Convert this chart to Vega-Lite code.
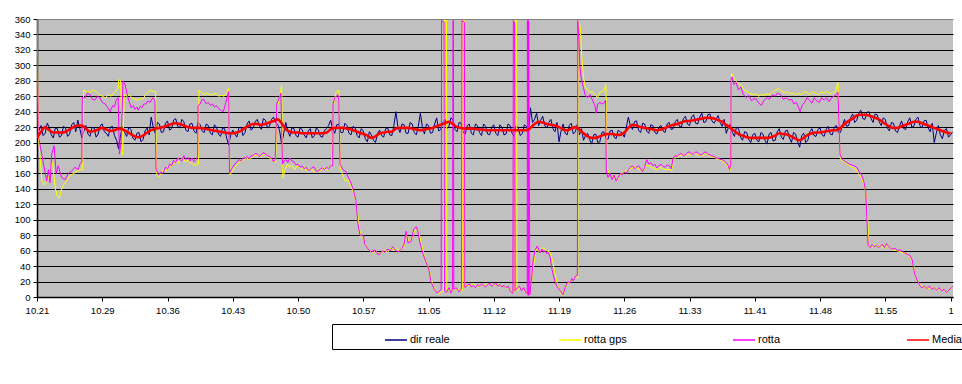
{
"$schema":"https://vega.github.io/schema/vega-lite/v6.json",
"width":916,"height":278,
"autosize":{"type":"none"},
"padding":{"left":37,"top":19,"right":9,"bottom":87},
"background":"white",
"config":{"view":{"fill":"#C0C0C0","stroke":null},"font":"Liberation Sans"},
"datasets":{
"dir":[{"t":0,"v":210},{"t":1,"v":222},{"t":2,"v":212},{"t":3,"v":220},{"t":4,"v":206},{"t":5,"v":218},{"t":6,"v":209},{"t":7,"v":219},{"t":8,"v":211},{"t":9,"v":226},{"t":10,"v":229},{"t":11,"v":206},{"t":12,"v":222},{"t":13,"v":208},{"t":14,"v":219},{"t":15,"v":211},{"t":16,"v":224},{"t":17,"v":212},{"t":18,"v":220},{"t":19,"v":209},{"t":20,"v":192},{"t":21,"v":221},{"t":22,"v":208},{"t":23,"v":217},{"t":24,"v":203},{"t":25,"v":213},{"t":26,"v":204},{"t":27,"v":219},{"t":28,"v":233},{"t":29,"v":212},{"t":30,"v":224},{"t":31,"v":214},{"t":32,"v":228},{"t":33,"v":218},{"t":34,"v":231},{"t":35,"v":219},{"t":36,"v":227},{"t":37,"v":214},{"t":38,"v":225},{"t":39,"v":212},{"t":40,"v":223},{"t":41,"v":213},{"t":42,"v":222},{"t":43,"v":210},{"t":44,"v":220},{"t":45,"v":208},{"t":46,"v":218},{"t":47,"v":197},{"t":48,"v":216},{"t":49,"v":207},{"t":50,"v":220},{"t":51,"v":213},{"t":52,"v":228},{"t":53,"v":219},{"t":54,"v":230},{"t":55,"v":217},{"t":56,"v":229},{"t":57,"v":221},{"t":58,"v":233},{"t":59,"v":224},{"t":60,"v":198},{"t":61,"v":226},{"t":62,"v":208},{"t":63,"v":218},{"t":64,"v":207},{"t":65,"v":217},{"t":66,"v":206},{"t":67,"v":218},{"t":68,"v":209},{"t":69,"v":216},{"t":70,"v":207},{"t":71,"v":218},{"t":72,"v":229},{"t":73,"v":212},{"t":74,"v":224},{"t":75,"v":213},{"t":76,"v":222},{"t":77,"v":210},{"t":78,"v":219},{"t":79,"v":206},{"t":80,"v":215},{"t":81,"v":201},{"t":82,"v":210},{"t":83,"v":200},{"t":84,"v":216},{"t":85,"v":207},{"t":86,"v":219},{"t":87,"v":209},{"t":88,"v":240},{"t":89,"v":213},{"t":90,"v":223},{"t":91,"v":212},{"t":92,"v":224},{"t":93,"v":210},{"t":94,"v":238},{"t":95,"v":211},{"t":96,"v":222},{"t":97,"v":213},{"t":98,"v":232},{"t":99,"v":217},{"t":100,"v":230},{"t":101,"v":221},{"t":102,"v":229},{"t":103,"v":214},{"t":104,"v":225},{"t":105,"v":211},{"t":106,"v":224},{"t":107,"v":210},{"t":108,"v":222},{"t":109,"v":209},{"t":110,"v":221},{"t":111,"v":210},{"t":112,"v":223},{"t":113,"v":209},{"t":114,"v":220},{"t":115,"v":211},{"t":116,"v":222},{"t":117,"v":208},{"t":118,"v":219},{"t":119,"v":212},{"t":120,"v":221},{"t":121,"v":245},{"t":122,"v":230},{"t":123,"v":222},{"t":124,"v":234},{"t":125,"v":219},{"t":126,"v":230},{"t":127,"v":214},{"t":128,"v":201},{"t":129,"v":224},{"t":130,"v":210},{"t":131,"v":225},{"t":132,"v":214},{"t":133,"v":210},{"t":134,"v":203},{"t":135,"v":212},{"t":136,"v":198},{"t":137,"v":211},{"t":138,"v":201},{"t":139,"v":214},{"t":140,"v":204},{"t":141,"v":216},{"t":142,"v":205},{"t":143,"v":214},{"t":144,"v":207},{"t":145,"v":233},{"t":146,"v":217},{"t":147,"v":228},{"t":148,"v":213},{"t":149,"v":224},{"t":150,"v":212},{"t":151,"v":222},{"t":152,"v":211},{"t":153,"v":222},{"t":154,"v":213},{"t":155,"v":226},{"t":156,"v":218},{"t":157,"v":230},{"t":158,"v":220},{"t":159,"v":234},{"t":160,"v":222},{"t":161,"v":236},{"t":162,"v":224},{"t":163,"v":238},{"t":164,"v":227},{"t":165,"v":237},{"t":166,"v":225},{"t":167,"v":235},{"t":168,"v":221},{"t":169,"v":212},{"t":170,"v":224},{"t":171,"v":208},{"t":172,"v":218},{"t":173,"v":203},{"t":174,"v":213},{"t":175,"v":200},{"t":176,"v":212},{"t":177,"v":201},{"t":178,"v":211},{"t":179,"v":198},{"t":180,"v":213},{"t":181,"v":203},{"t":182,"v":218},{"t":183,"v":204},{"t":184,"v":216},{"t":185,"v":200},{"t":186,"v":211},{"t":187,"v":194},{"t":188,"v":212},{"t":189,"v":203},{"t":190,"v":218},{"t":191,"v":208},{"t":192,"v":219},{"t":193,"v":208},{"t":194,"v":221},{"t":195,"v":210},{"t":196,"v":222},{"t":197,"v":213},{"t":198,"v":230},{"t":199,"v":222},{"t":200,"v":237},{"t":201,"v":229},{"t":202,"v":242},{"t":203,"v":230},{"t":204,"v":240},{"t":205,"v":226},{"t":206,"v":236},{"t":207,"v":222},{"t":208,"v":230},{"t":209,"v":215},{"t":210,"v":225},{"t":211,"v":213},{"t":212,"v":228},{"t":213,"v":217},{"t":214,"v":232},{"t":215,"v":221},{"t":216,"v":233},{"t":217,"v":219},{"t":218,"v":229},{"t":219,"v":214},{"t":220,"v":200},{"t":221,"v":222},{"t":222,"v":205},{"t":223,"v":218},{"t":224,"v":210},
{"t":0.5,"v":216},{"t":1.5,"v":209},{"t":2.5,"v":225},{"t":3.5,"v":210},{"t":4.5,"v":219},{"t":5.5,"v":207},{"t":6.5,"v":221},{"t":7.5,"v":208},{"t":8.5,"v":223},{"t":9.5,"v":214},{"t":10.5,"v":218},{"t":11.5,"v":215},{"t":12.5,"v":211},{"t":13.5,"v":220},{"t":14.5,"v":207},{"t":15.5,"v":222},{"t":16.5,"v":214},{"t":17.5,"v":208},{"t":18.5,"v":221},{"t":19.5,"v":203},{"t":20.5,"v":210},{"t":21.5,"v":213},{"t":22.5,"v":220},{"t":23.5,"v":206},{"t":24.5,"v":212},{"t":25.5,"v":201},{"t":26.5,"v":215},{"t":27.5,"v":210},{"t":28.5,"v":220},{"t":29.5,"v":226},{"t":30.5,"v":213},{"t":31.5,"v":225},{"t":32.5,"v":216},{"t":33.5,"v":229},{"t":34.5,"v":221},{"t":35.5,"v":230},{"t":36.5,"v":216},{"t":37.5,"v":224},{"t":38.5,"v":215},{"t":39.5,"v":226},{"t":40.5,"v":215},{"t":41.5,"v":224},{"t":42.5,"v":212},{"t":43.5,"v":223},{"t":44.5,"v":211},{"t":45.5,"v":219},{"t":46.5,"v":206},{"t":47.5,"v":210},{"t":48.5,"v":211},{"t":49.5,"v":219},{"t":50.5,"v":209},{"t":51.5,"v":224},{"t":52.5,"v":216},{"t":53.5,"v":227},{"t":54.5,"v":222},{"t":55.5,"v":231},{"t":56.5,"v":219},{"t":57.5,"v":230},{"t":58.5,"v":226},{"t":59.5,"v":215},{"t":60.5,"v":212},{"t":61.5,"v":215},{"t":62.5,"v":219},{"t":63.5,"v":209},{"t":64.5,"v":219},{"t":65.5,"v":210},{"t":66.5,"v":215},{"t":67.5,"v":206},{"t":68.5,"v":219},{"t":69.5,"v":208},{"t":70.5,"v":216},{"t":71.5,"v":222},{"t":72.5,"v":218},{"t":73.5,"v":223},{"t":74.5,"v":213},{"t":75.5,"v":225},{"t":76.5,"v":212},{"t":77.5,"v":221},{"t":78.5,"v":209},{"t":79.5,"v":218},{"t":80.5,"v":205},{"t":81.5,"v":214},{"t":82.5,"v":203},{"t":83.5,"v":212},{"t":84.5,"v":209},{"t":85.5,"v":218},{"t":86.5,"v":210},{"t":87.5,"v":222},{"t":88.5,"v":220},{"t":89.5,"v":224},{"t":90.5,"v":212},{"t":91.5,"v":226},{"t":92.5,"v":213},{"t":93.5,"v":221},{"t":94.5,"v":220},{"t":95.5,"v":224},{"t":96.5,"v":212},{"t":97.5,"v":224},{"t":98.5,"v":215},{"t":99.5,"v":226},{"t":100.5,"v":218},{"t":101.5,"v":232},{"t":102.5,"v":217},{"t":103.5,"v":226},{"t":104.5,"v":213},{"t":105.5,"v":222},{"t":106.5,"v":212},{"t":107.5,"v":224},{"t":108.5,"v":213},{"t":109.5,"v":224},{"t":110.5,"v":211},{"t":111.5,"v":220},{"t":112.5,"v":212},{"t":113.5,"v":223},{"t":114.5,"v":210},{"t":115.5,"v":224},{"t":116.5,"v":212},{"t":117.5,"v":222},{"t":118.5,"v":209},{"t":119.5,"v":223},{"t":120.5,"v":213},{"t":121.5,"v":226},{"t":122.5,"v":238},{"t":123.5,"v":229},{"t":124.5,"v":222},{"t":125.5,"v":226},{"t":126.5,"v":218},{"t":127.5,"v":226},{"t":128.5,"v":215},{"t":129.5,"v":212},{"t":130.5,"v":222},{"t":131.5,"v":211},{"t":132.5,"v":224},{"t":133.5,"v":218},{"t":134.5,"v":209},{"t":135.5,"v":204},{"t":136.5,"v":210},{"t":137.5,"v":200},{"t":138.5,"v":213},{"t":139.5,"v":206},{"t":140.5,"v":215},{"t":141.5,"v":207},{"t":142.5,"v":216},{"t":143.5,"v":212},{"t":144.5,"v":220},{"t":145.5,"v":222},{"t":146.5,"v":227},{"t":147.5,"v":216},{"t":148.5,"v":225},{"t":149.5,"v":215},{"t":150.5,"v":223},{"t":151.5,"v":213},{"t":152.5,"v":220},{"t":153.5,"v":215},{"t":154.5,"v":224},{"t":155.5,"v":217},{"t":156.5,"v":227},{"t":157.5,"v":221},{"t":158.5,"v":231},{"t":159.5,"v":224},{"t":160.5,"v":233},{"t":161.5,"v":225},{"t":162.5,"v":233},{"t":163.5,"v":226},{"t":164.5,"v":236},{"t":165.5,"v":228},{"t":166.5,"v":230},{"t":167.5,"v":226},{"t":168.5,"v":230},{"t":169.5,"v":219},{"t":170.5,"v":213},{"t":171.5,"v":220},{"t":172.5,"v":207},{"t":173.5,"v":214},{"t":174.5,"v":204},{"t":175.5,"v":210},{"t":176.5,"v":203},{"t":177.5,"v":213},{"t":178.5,"v":203},{"t":179.5,"v":211},{"t":180.5,"v":202},{"t":181.5,"v":214},{"t":182.5,"v":207},{"t":183.5,"v":215},{"t":184.5,"v":206},{"t":185.5,"v":213},{"t":186.5,"v":201},{"t":187.5,"v":209},{"t":188.5,"v":200},{"t":189.5,"v":214},{"t":190.5,"v":209},{"t":191.5,"v":217},{"t":192.5,"v":210},{"t":193.5,"v":217},{"t":194.5,"v":211},{"t":195.5,"v":220},{"t":196.5,"v":213},{"t":197.5,"v":222},{"t":198.5,"v":221},{"t":199.5,"v":232},{"t":200.5,"v":226},{"t":201.5,"v":238},{"t":202.5,"v":231},{"t":203.5,"v":239},{"t":204.5,"v":231},{"t":205.5,"v":237},{"t":206.5,"v":227},{"t":207.5,"v":232},{"t":208.5,"v":219},{"t":209.5,"v":226},{"t":210.5,"v":215},{"t":211.5,"v":222},{"t":212.5,"v":218},{"t":213.5,"v":227},{"t":214.5,"v":220},{"t":215.5,"v":230},{"t":216.5,"v":222},{"t":217.5,"v":228},{"t":218.5,"v":219},{"t":219.5,"v":225},{"t":220.5,"v":212},{"t":221.5,"v":210},{"t":222.5,"v":216},{"t":223.5,"v":207},{"t":224.5,"v":214}],
"gps":[{"t":0,"v":360},{"t":0.4,"v":205},{"t":1.2,"v":150},{"t":1.8,"v":145},{"t":2.5,"v":150},{"t":3.2,"v":160},{"t":3.8,"v":175},{"t":4.5,"v":140},{"t":5,"v":130},{"t":5.5,"v":128},{"t":6,"v":140},{"t":6.5,"v":145},{"t":7.2,"v":150},{"t":8,"v":157},{"t":9,"v":160},{"t":10,"v":163},{"t":10.7,"v":165},{"t":11.2,"v":165},{"t":11.4,"v":268},{"t":12,"v":266},{"t":13,"v":265},{"t":13.8,"v":268},{"t":14.5,"v":266},{"t":15.2,"v":262},{"t":16,"v":260},{"t":16.8,"v":258},{"t":17.5,"v":262},{"t":18.2,"v":260},{"t":19,"v":265},{"t":19.6,"v":268},{"t":19.9,"v":270},{"t":20,"v":281},{"t":20.5,"v":281},{"t":21,"v":184},{"t":21.4,"v":262},{"t":22,"v":260},{"t":22.6,"v":262},{"t":23.3,"v":258},{"t":24,"v":256},{"t":24.7,"v":255},{"t":25.4,"v":257},{"t":26,"v":256},{"t":26.6,"v":262},{"t":27.2,"v":265},{"t":27.8,"v":268},{"t":28.5,"v":266},{"t":29.1,"v":266},{"t":29.3,"v":160},{"t":29.8,"v":155},{"t":30.4,"v":160},{"t":31,"v":165},{"t":31.6,"v":163},{"t":32.2,"v":170},{"t":32.8,"v":168},{"t":33.4,"v":172},{"t":34,"v":176},{"t":34.6,"v":173},{"t":35.2,"v":178},{"t":35.8,"v":180},{"t":36.4,"v":175},{"t":37,"v":177},{"t":37.6,"v":174},{"t":38.2,"v":172},{"t":38.8,"v":170},{"t":39.3,"v":172},{"t":39.6,"v":172},{"t":39.7,"v":268},{"t":40.3,"v":265},{"t":41,"v":262},{"t":41.7,"v":264},{"t":42.4,"v":262},{"t":43.1,"v":262},{"t":43.8,"v":264},{"t":44.5,"v":260},{"t":45.2,"v":261},{"t":45.9,"v":260},{"t":46.5,"v":266},{"t":47,"v":270},{"t":47.3,"v":158},{"t":47.8,"v":162},{"t":48.5,"v":168},{"t":49.2,"v":172},{"t":50,"v":176},{"t":50.7,"v":178},{"t":51.4,"v":180},{"t":52.1,"v":178},{"t":52.8,"v":181},{"t":53.5,"v":184},{"t":54.2,"v":183},{"t":55,"v":182},{"t":55.7,"v":185},{"t":56.4,"v":183},{"t":57.1,"v":180},{"t":57.8,"v":176},{"t":58.5,"v":175},{"t":58.9,"v":245},{"t":59.6,"v":262},{"t":60,"v":274},{"t":60.3,"v":154},{"t":60.8,"v":165},{"t":61.5,"v":172},{"t":62,"v":168},{"t":62.6,"v":170},{"t":63.2,"v":165},{"t":63.8,"v":170},{"t":64.4,"v":168},{"t":65,"v":165},{"t":65.6,"v":168},{"t":66.2,"v":163},{"t":66.8,"v":166},{"t":67.4,"v":165},{"t":68,"v":162},{"t":68.6,"v":165},{"t":69.2,"v":162},{"t":69.8,"v":166},{"t":70.4,"v":167},{"t":71,"v":164},{"t":71.6,"v":168},{"t":72.3,"v":170},{"t":72.7,"v":248},{"t":73.3,"v":265},{"t":74,"v":268},{"t":74.4,"v":165},{"t":75,"v":158},{"t":75.6,"v":150},{"t":76.2,"v":152},{"t":76.8,"v":145},{"t":77.4,"v":138},{"t":78,"v":128},{"t":78.6,"v":110},{"t":79,"v":90},{"t":79.5,"v":78},{"t":80.2,"v":75},{"t":80.7,"v":66},{"t":81.5,"v":60},{"t":82.3,"v":57},{"t":83,"v":60},{"t":83.8,"v":56},{"t":84.5,"v":58},{"t":85.2,"v":60},{"t":86,"v":58},{"t":86.7,"v":63},{"t":87.4,"v":60},{"t":88,"v":64},{"t":88.7,"v":60},{"t":89.3,"v":62},{"t":90,"v":65},{"t":90.6,"v":80},{"t":91.2,"v":72},{"t":91.9,"v":75},{"t":92.6,"v":86},{"t":93.2,"v":88},{"t":93.7,"v":82},{"t":94.3,"v":68},{"t":95,"v":52},{"t":95.7,"v":42},{"t":96.4,"v":30},{"t":97,"v":16},{"t":97.7,"v":8},{"t":98.4,"v":4},{"t":99,"v":6},{"t":99.7,"v":8},{"t":99.8,"v":358},{"t":100.4,"v":358},{"t":100.5,"v":8},{"t":101,"v":10},{"t":101.6,"v":6},{"t":102.3,"v":12},{"t":103,"v":8},{"t":103.7,"v":10},{"t":104.3,"v":8},{"t":104.4,"v":358},{"t":104.8,"v":358},{"t":104.9,"v":12},{"t":105.5,"v":16},{"t":106,"v":14},{"t":107,"v":17},{"t":108,"v":13},{"t":109,"v":16},{"t":110,"v":15},{"t":111,"v":17},{"t":112,"v":15},{"t":113,"v":16},{"t":114,"v":14},{"t":115,"v":13},{"t":116,"v":9},{"t":116.8,"v":6},{"t":117.1,"v":8},{"t":117.2,"v":358},{"t":117.6,"v":358},{"t":117.7,"v":8},{"t":118.4,"v":12},{"t":119,"v":10},{"t":119.6,"v":7},{"t":120.3,"v":5},{"t":121,"v":6},{"t":121.5,"v":30},{"t":122.3,"v":62},{"t":123.3,"v":58},{"t":124,"v":64},{"t":125,"v":60},{"t":125.8,"v":58},{"t":126.5,"v":45},{"t":127,"v":30},{"t":127.7,"v":15},{"t":128.5,"v":5},{"t":129,"v":2},{"t":129.8,"v":14},{"t":130.5,"v":20},{"t":131.3,"v":22},{"t":132,"v":26},{"t":132.6,"v":25},{"t":132.7,"v":358},{"t":133.2,"v":350},{"t":133.6,"v":310},{"t":134,"v":285},{"t":134.4,"v":272},{"t":135,"v":268},{"t":135.6,"v":265},{"t":136.2,"v":266},{"t":136.8,"v":262},{"t":137.5,"v":258},{"t":138,"v":265},{"t":138.6,"v":266},{"t":139.1,"v":268},{"t":139.5,"v":275},{"t":139.8,"v":167},{"t":140.3,"v":160},{"t":141,"v":157},{"t":141.6,"v":153},{"t":142.2,"v":150},{"t":142.8,"v":158},{"t":143.5,"v":160},{"t":144.2,"v":163},{"t":145,"v":165},{"t":145.7,"v":167},{"t":146.4,"v":168},{"t":147.2,"v":167},{"t":148,"v":164},{"t":148.6,"v":162},{"t":149.3,"v":170},{"t":150,"v":170},{"t":150.7,"v":168},{"t":151.4,"v":166},{"t":152.1,"v":165},{"t":152.8,"v":168},{"t":153.5,"v":166},{"t":154.2,"v":165},{"t":155,"v":165},{"t":155.6,"v":164},{"t":156.2,"v":178},{"t":156.9,"v":182},{"t":157.6,"v":183},{"t":158.3,"v":184},{"t":159,"v":183},{"t":159.7,"v":185},{"t":160.4,"v":184},{"t":161.1,"v":186},{"t":161.8,"v":185},{"t":162.5,"v":183},{"t":163.2,"v":183},{"t":163.9,"v":186},{"t":164.6,"v":184},{"t":165.3,"v":182},{"t":166,"v":181},{"t":166.7,"v":179},{"t":167.4,"v":178},{"t":168.1,"v":176},{"t":168.8,"v":173},{"t":169.5,"v":168},{"t":170,"v":164},{"t":170.3,"v":290},{"t":170.8,"v":285},{"t":171.3,"v":280},{"t":172,"v":276},{"t":172.7,"v":274},{"t":173.4,"v":268},{"t":174.1,"v":266},{"t":174.8,"v":264},{"t":175.5,"v":262},{"t":176.2,"v":263},{"t":176.9,"v":260},{"t":177.6,"v":262},{"t":178.3,"v":261},{"t":179,"v":263},{"t":179.7,"v":262},{"t":180.4,"v":266},{"t":181.1,"v":268},{"t":181.8,"v":270},{"t":182.5,"v":267},{"t":183.2,"v":264},{"t":183.9,"v":266},{"t":184.6,"v":263},{"t":185.3,"v":264},{"t":186,"v":262},{"t":186.7,"v":264},{"t":187.4,"v":262},{"t":188.1,"v":266},{"t":188.8,"v":265},{"t":189.5,"v":262},{"t":190.2,"v":266},{"t":190.9,"v":264},{"t":191.6,"v":262},{"t":192.3,"v":266},{"t":193,"v":264},{"t":193.7,"v":266},{"t":194.4,"v":263},{"t":195.1,"v":265},{"t":195.8,"v":266},{"t":196.4,"v":278},{"t":196.9,"v":180},{"t":197.5,"v":176},{"t":198.2,"v":174},{"t":199,"v":171},{"t":199.8,"v":168},{"t":200.6,"v":166},{"t":201.4,"v":160},{"t":202.1,"v":155},{"t":202.8,"v":145},{"t":203.4,"v":132},{"t":203.7,"v":100},{"t":204,"v":66},{"t":204.7,"v":65},{"t":205.4,"v":68},{"t":206.2,"v":65},{"t":207,"v":66},{"t":207.8,"v":63},{"t":208.6,"v":68},{"t":209.3,"v":63},{"t":210,"v":61},{"t":210.8,"v":60},{"t":211.6,"v":59},{"t":212.4,"v":57},{"t":213.2,"v":55},{"t":214,"v":52},{"t":214.8,"v":45},{"t":215.4,"v":28},{"t":216.2,"v":18},{"t":217,"v":14},{"t":218,"v":12},{"t":219,"v":11},{"t":220,"v":12},{"t":221,"v":9},{"t":222,"v":10},{"t":223,"v":7},{"t":224,"v":10},{"t":224.6,"v":14}],
"rot":[{"t":0,"v":360},{"t":0.3,"v":210},{"t":1.5,"v":175},{"t":2.4,"v":150},{"t":2.8,"v":165},{"t":3.2,"v":148},{"t":3.6,"v":185},{"t":4.2,"v":196},{"t":4.7,"v":160},{"t":5.2,"v":170},{"t":6,"v":155},{"t":6.9,"v":152},{"t":7.7,"v":160},{"t":8.5,"v":163},{"t":9.3,"v":168},{"t":10.1,"v":165},{"t":10.5,"v":172},{"t":11,"v":175},{"t":11.1,"v":258},{"t":11.8,"v":258},{"t":12.4,"v":264},{"t":13,"v":262},{"t":13.6,"v":256},{"t":14.2,"v":255},{"t":14.8,"v":260},{"t":15.4,"v":258},{"t":16,"v":252},{"t":16.7,"v":250},{"t":17.4,"v":245},{"t":17.9,"v":240},{"t":18.6,"v":248},{"t":19,"v":246},{"t":19.4,"v":255},{"t":19.9,"v":258},{"t":20.2,"v":185},{"t":20.6,"v":200},{"t":21.1,"v":280},{"t":21.6,"v":275},{"t":22.3,"v":258},{"t":23.1,"v":245},{"t":23.6,"v":248},{"t":24,"v":243},{"t":24.5,"v":246},{"t":24.8,"v":242},{"t":25.3,"v":247},{"t":25.7,"v":245},{"t":26.2,"v":250},{"t":26.7,"v":250},{"t":27.2,"v":254},{"t":27.7,"v":252},{"t":28.4,"v":258},{"t":28.9,"v":255},{"t":29.2,"v":165},{"t":29.8,"v":158},{"t":30.3,"v":162},{"t":30.9,"v":160},{"t":31.5,"v":168},{"t":32,"v":166},{"t":32.5,"v":172},{"t":33,"v":170},{"t":33.5,"v":177},{"t":34,"v":174},{"t":34.5,"v":180},{"t":35,"v":178},{"t":35.5,"v":176},{"t":36,"v":183},{"t":36.5,"v":178},{"t":37,"v":181},{"t":37.5,"v":176},{"t":38,"v":180},{"t":38.5,"v":175},{"t":39,"v":178},{"t":39.4,"v":182},{"t":39.5,"v":248},{"t":40,"v":250},{"t":40.5,"v":256},{"t":41,"v":255},{"t":41.5,"v":250},{"t":42,"v":252},{"t":42.5,"v":248},{"t":43,"v":250},{"t":43.5,"v":246},{"t":44,"v":248},{"t":44.5,"v":244},{"t":45,"v":242},{"t":45.7,"v":240},{"t":46.3,"v":252},{"t":46.8,"v":262},{"t":47,"v":266},{"t":47.2,"v":160},{"t":47.6,"v":165},{"t":48,"v":168},{"t":48.5,"v":172},{"t":49,"v":175},{"t":49.5,"v":178},{"t":50,"v":176},{"t":50.5,"v":180},{"t":51,"v":180},{"t":51.5,"v":182},{"t":52,"v":179},{"t":52.5,"v":183},{"t":53,"v":183},{"t":53.5,"v":186},{"t":54,"v":185},{"t":54.5,"v":182},{"t":55,"v":184},{"t":55.5,"v":187},{"t":56,"v":185},{"t":56.5,"v":183},{"t":57,"v":182},{"t":57.5,"v":180},{"t":58,"v":175},{"t":58.4,"v":178},{"t":58.8,"v":250},{"t":59.4,"v":258},{"t":59.8,"v":264},{"t":60.2,"v":172},{"t":60.6,"v":176},{"t":61,"v":178},{"t":61.5,"v":174},{"t":62,"v":180},{"t":62.5,"v":176},{"t":63,"v":175},{"t":63.5,"v":171},{"t":64,"v":172},{"t":64.5,"v":168},{"t":65,"v":170},{"t":65.5,"v":166},{"t":66,"v":168},{"t":66.5,"v":164},{"t":67,"v":165},{"t":67.5,"v":168},{"t":68,"v":168},{"t":68.5,"v":163},{"t":69,"v":163},{"t":69.5,"v":166},{"t":70,"v":167},{"t":70.5,"v":165},{"t":71,"v":168},{"t":71.5,"v":166},{"t":72,"v":170},{"t":72.5,"v":170},{"t":72.6,"v":250},{"t":73,"v":258},{"t":73.8,"v":262},{"t":74,"v":255},{"t":74.3,"v":172},{"t":75,"v":165},{"t":75.8,"v":162},{"t":76.3,"v":155},{"t":76.8,"v":150},{"t":77.5,"v":140},{"t":78.2,"v":125},{"t":78.7,"v":95},{"t":79.2,"v":80},{"t":80,"v":80},{"t":80.4,"v":68},{"t":81.2,"v":62},{"t":82.1,"v":58},{"t":82.6,"v":61},{"t":83.1,"v":60},{"t":83.6,"v":55},{"t":84.1,"v":56},{"t":84.7,"v":60},{"t":85.3,"v":58},{"t":86,"v":62},{"t":86.6,"v":60},{"t":87.2,"v":65},{"t":87.8,"v":62},{"t":88.4,"v":58},{"t":89,"v":60},{"t":89.5,"v":63},{"t":90,"v":68},{"t":90.5,"v":85},{"t":91,"v":70},{"t":91.7,"v":72},{"t":92.4,"v":88},{"t":93,"v":91},{"t":93.4,"v":85},{"t":93.9,"v":70},{"t":94.7,"v":55},{"t":95.4,"v":45},{"t":96.1,"v":35},{"t":96.6,"v":20},{"t":97.4,"v":10},{"t":98.1,"v":5},{"t":98.8,"v":8},{"t":99.1,"v":10},{"t":99.2,"v":358},{"t":99.8,"v":356},{"t":99.9,"v":8},{"t":100.4,"v":6},{"t":101,"v":12},{"t":101.5,"v":5},{"t":101.9,"v":10},{"t":102,"v":358},{"t":102.1,"v":358},{"t":102.2,"v":10},{"t":102.8,"v":12},{"t":103.4,"v":7},{"t":104.1,"v":10},{"t":104.2,"v":358},{"t":104.8,"v":356},{"t":104.9,"v":12},{"t":105.5,"v":15},{"t":106,"v":17},{"t":106.5,"v":13},{"t":107,"v":15},{"t":107.5,"v":12},{"t":108,"v":16},{"t":108.5,"v":14},{"t":109,"v":17},{"t":109.5,"v":15},{"t":110,"v":13},{"t":110.5,"v":16},{"t":111,"v":18},{"t":111.5,"v":14},{"t":112,"v":16},{"t":112.5,"v":18},{"t":113,"v":14},{"t":113.5,"v":16},{"t":114,"v":13},{"t":114.5,"v":15},{"t":115,"v":12},{"t":115.5,"v":14},{"t":116,"v":8},{"t":116.6,"v":5},{"t":116.7,"v":5},{"t":116.8,"v":358},{"t":117.1,"v":355},{"t":117.2,"v":8},{"t":117.8,"v":12},{"t":118.3,"v":14},{"t":118.8,"v":8},{"t":119.3,"v":12},{"t":119.8,"v":6},{"t":120.2,"v":4},{"t":120.25,"v":358},{"t":120.45,"v":2},{"t":120.55,"v":358},{"t":120.85,"v":3},{"t":121.3,"v":25},{"t":121.6,"v":45},{"t":122.1,"v":60},{"t":122.6,"v":66},{"t":123,"v":62},{"t":123.3,"v":57},{"t":123.8,"v":62},{"t":124.2,"v":58},{"t":124.6,"v":60},{"t":125,"v":56},{"t":125.3,"v":58},{"t":125.8,"v":52},{"t":126.3,"v":35},{"t":127,"v":20},{"t":127.5,"v":14},{"t":128.3,"v":8},{"t":129,"v":3},{"t":129.5,"v":12},{"t":130.2,"v":20},{"t":130.7,"v":18},{"t":131.2,"v":24},{"t":131.5,"v":21},{"t":131.9,"v":26},{"t":132.4,"v":28},{"t":132.5,"v":28},{"t":132.6,"v":358},{"t":132.9,"v":330},{"t":133.1,"v":300},{"t":133.4,"v":285},{"t":133.8,"v":275},{"t":134.4,"v":262},{"t":135,"v":258},{"t":135.6,"v":262},{"t":136.2,"v":255},{"t":136.8,"v":248},{"t":137.1,"v":238},{"t":137.5,"v":250},{"t":138,"v":252},{"t":138.5,"v":250},{"t":139,"v":251},{"t":139.4,"v":255},{"t":139.6,"v":162},{"t":140,"v":155},{"t":140.5,"v":160},{"t":141,"v":152},{"t":141.5,"v":158},{"t":142,"v":150},{"t":142.5,"v":155},{"t":143,"v":160},{"t":143.5,"v":158},{"t":144,"v":162},{"t":144.5,"v":160},{"t":145,"v":165},{"t":145.5,"v":168},{"t":146,"v":170},{"t":146.5,"v":166},{"t":147,"v":168},{"t":147.5,"v":170},{"t":148,"v":166},{"t":148.5,"v":162},{"t":149,"v":168},{"t":149.5,"v":178},{"t":150,"v":172},{"t":150.5,"v":174},{"t":151,"v":170},{"t":151.5,"v":172},{"t":152,"v":167},{"t":152.5,"v":170},{"t":153,"v":172},{"t":153.5,"v":169},{"t":154,"v":168},{"t":154.5,"v":171},{"t":155,"v":170},{"t":155.5,"v":166},{"t":156,"v":180},{"t":156.5,"v":183},{"t":157,"v":182},{"t":157.5,"v":185},{"t":158,"v":186},{"t":158.5,"v":183},{"t":159,"v":184},{"t":159.5,"v":187},{"t":160,"v":188},{"t":160.5,"v":185},{"t":161,"v":185},{"t":161.5,"v":188},{"t":162,"v":187},{"t":162.5,"v":184},{"t":163,"v":184},{"t":163.5,"v":187},{"t":164,"v":188},{"t":164.5,"v":185},{"t":165,"v":184},{"t":165.5,"v":183},{"t":166,"v":182},{"t":166.5,"v":180},{"t":167,"v":180},{"t":167.5,"v":178},{"t":168,"v":178},{"t":168.5,"v":176},{"t":169,"v":174},{"t":169.5,"v":170},{"t":169.8,"v":165},{"t":170.1,"v":172},{"t":170.2,"v":282},{"t":170.4,"v":285},{"t":170.9,"v":275},{"t":171.4,"v":278},{"t":172,"v":268},{"t":172.6,"v":272},{"t":173.2,"v":262},{"t":174,"v":258},{"t":174.5,"v":261},{"t":175.2,"v":254},{"t":175.8,"v":257},{"t":176.4,"v":256},{"t":177,"v":251},{"t":177.6,"v":248},{"t":178.3,"v":255},{"t":179,"v":258},{"t":179.6,"v":256},{"t":180.3,"v":262},{"t":181,"v":260},{"t":181.6,"v":264},{"t":182.3,"v":262},{"t":183,"v":256},{"t":183.7,"v":258},{"t":184.4,"v":255},{"t":185,"v":256},{"t":185.6,"v":250},{"t":186.2,"v":252},{"t":186.7,"v":246},{"t":187.1,"v":240},{"t":187.6,"v":248},{"t":188.2,"v":252},{"t":188.8,"v":258},{"t":189.4,"v":255},{"t":190,"v":251},{"t":190.6,"v":258},{"t":191.2,"v":254},{"t":191.8,"v":252},{"t":192.4,"v":258},{"t":193,"v":255},{"t":193.6,"v":258},{"t":194.2,"v":253},{"t":194.8,"v":258},{"t":195.4,"v":260},{"t":196,"v":262},{"t":196.4,"v":265},{"t":196.9,"v":184},{"t":197.5,"v":178},{"t":198,"v":176},{"t":198.6,"v":174},{"t":199.2,"v":172},{"t":199.8,"v":171},{"t":200.4,"v":170},{"t":201,"v":168},{"t":201.6,"v":162},{"t":202.2,"v":158},{"t":202.8,"v":148},{"t":203.2,"v":137},{"t":203.5,"v":100},{"t":203.8,"v":67},{"t":204.3,"v":64},{"t":204.8,"v":68},{"t":205.3,"v":65},{"t":205.8,"v":67},{"t":206.3,"v":64},{"t":206.8,"v":66},{"t":207.3,"v":68},{"t":207.8,"v":64},{"t":208.3,"v":69},{"t":208.8,"v":66},{"t":209.3,"v":63},{"t":209.8,"v":62},{"t":210.4,"v":63},{"t":211,"v":60},{"t":211.6,"v":61},{"t":212.2,"v":59},{"t":212.8,"v":57},{"t":213.4,"v":55},{"t":214,"v":54},{"t":214.6,"v":48},{"t":215.2,"v":30},{"t":215.8,"v":22},{"t":216.4,"v":15},{"t":217,"v":12},{"t":217.6,"v":14},{"t":218.2,"v":11},{"t":218.8,"v":14},{"t":219.4,"v":10},{"t":220,"v":12},{"t":220.6,"v":9},{"t":221.2,"v":12},{"t":221.8,"v":8},{"t":222.4,"v":10},{"t":223,"v":6},{"t":223.6,"v":9},{"t":224.2,"v":12},{"t":224.6,"v":14}],
"med":[{"t":0,"v":206},{"t":1,"v":214},{"t":2,"v":220},{"t":3,"v":216},{"t":4,"v":213},{"t":5,"v":213},{"t":6,"v":213},{"t":7,"v":214},{"t":8,"v":217},{"t":9,"v":220},{"t":10,"v":222},{"t":11,"v":222},{"t":12,"v":218},{"t":13,"v":214},{"t":14,"v":215},{"t":15,"v":217},{"t":16,"v":219},{"t":17,"v":217},{"t":18,"v":215},{"t":19,"v":216},{"t":20,"v":218},{"t":21,"v":217},{"t":22,"v":214},{"t":23,"v":211},{"t":24,"v":208},{"t":25,"v":207},{"t":26,"v":209},{"t":27,"v":213},{"t":28,"v":216},{"t":29,"v":218},{"t":30,"v":219},{"t":31,"v":220},{"t":32,"v":222},{"t":33,"v":224},{"t":34,"v":225},{"t":35,"v":224},{"t":36,"v":222},{"t":37,"v":220},{"t":38,"v":219},{"t":39,"v":219},{"t":40,"v":219},{"t":41,"v":218},{"t":42,"v":217},{"t":43,"v":216},{"t":44,"v":215},{"t":45,"v":214},{"t":46,"v":213},{"t":47,"v":212},{"t":48,"v":212},{"t":49,"v":213},{"t":50,"v":215},{"t":51,"v":219},{"t":52,"v":222},{"t":53,"v":224},{"t":54,"v":224},{"t":55,"v":223},{"t":56,"v":224},{"t":57,"v":226},{"t":58,"v":228},{"t":59,"v":230},{"t":60,"v":225},{"t":61,"v":217},{"t":62,"v":214},{"t":63,"v":213},{"t":64,"v":213},{"t":65,"v":212},{"t":66,"v":212},{"t":67,"v":212},{"t":68,"v":212},{"t":69,"v":212},{"t":70,"v":212},{"t":71,"v":213},{"t":72,"v":217},{"t":73,"v":219},{"t":74,"v":219},{"t":75,"v":219},{"t":76,"v":218},{"t":77,"v":217},{"t":78,"v":215},{"t":79,"v":213},{"t":80,"v":211},{"t":81,"v":209},{"t":82,"v":206},{"t":83,"v":208},{"t":84,"v":212},{"t":85,"v":213},{"t":86,"v":214},{"t":87,"v":214},{"t":88,"v":218},{"t":89,"v":219},{"t":90,"v":219},{"t":91,"v":219},{"t":92,"v":218},{"t":93,"v":217},{"t":94,"v":216},{"t":95,"v":217},{"t":96,"v":218},{"t":97,"v":219},{"t":98,"v":221},{"t":99,"v":223},{"t":100,"v":225},{"t":101,"v":227},{"t":102,"v":224},{"t":103,"v":220},{"t":104,"v":219},{"t":105,"v":218},{"t":106,"v":218},{"t":107,"v":218},{"t":108,"v":217},{"t":109,"v":217},{"t":110,"v":216},{"t":111,"v":216},{"t":112,"v":216},{"t":113,"v":216},{"t":114,"v":216},{"t":115,"v":216},{"t":116,"v":216},{"t":117,"v":216},{"t":118,"v":216},{"t":119,"v":216},{"t":120,"v":216},{"t":121,"v":219},{"t":122,"v":224},{"t":123,"v":227},{"t":124,"v":226},{"t":125,"v":224},{"t":126,"v":223},{"t":127,"v":222},{"t":128,"v":220},{"t":129,"v":217},{"t":130,"v":216},{"t":131,"v":218},{"t":132,"v":220},{"t":133,"v":217},{"t":134,"v":212},{"t":135,"v":208},{"t":136,"v":206},{"t":137,"v":206},{"t":138,"v":208},{"t":139,"v":210},{"t":140,"v":211},{"t":141,"v":211},{"t":142,"v":210},{"t":143,"v":210},{"t":144,"v":213},{"t":145,"v":219},{"t":146,"v":223},{"t":147,"v":222},{"t":148,"v":220},{"t":149,"v":219},{"t":150,"v":218},{"t":151,"v":217},{"t":152,"v":216},{"t":153,"v":217},{"t":154,"v":219},{"t":155,"v":221},{"t":156,"v":223},{"t":157,"v":224},{"t":158,"v":226},{"t":159,"v":228},{"t":160,"v":228},{"t":161,"v":229},{"t":162,"v":230},{"t":163,"v":231},{"t":164,"v":232},{"t":165,"v":232},{"t":166,"v":231},{"t":167,"v":229},{"t":168,"v":227},{"t":169,"v":223},{"t":170,"v":219},{"t":171,"v":215},{"t":172,"v":211},{"t":173,"v":209},{"t":174,"v":207},{"t":175,"v":206},{"t":176,"v":206},{"t":177,"v":206},{"t":178,"v":206},{"t":179,"v":206},{"t":180,"v":207},{"t":181,"v":209},{"t":182,"v":212},{"t":183,"v":211},{"t":184,"v":210},{"t":185,"v":208},{"t":186,"v":205},{"t":187,"v":203},{"t":188,"v":206},{"t":189,"v":210},{"t":190,"v":212},{"t":191,"v":213},{"t":192,"v":213},{"t":193,"v":214},{"t":194,"v":215},{"t":195,"v":216},{"t":196,"v":216},{"t":197,"v":219},{"t":198,"v":224},{"t":199,"v":228},{"t":200,"v":231},{"t":201,"v":235},{"t":202,"v":236},{"t":203,"v":236},{"t":204,"v":235},{"t":205,"v":233},{"t":206,"v":231},{"t":207,"v":228},{"t":208,"v":224},{"t":209,"v":221},{"t":210,"v":219},{"t":211,"v":219},{"t":212,"v":221},{"t":213,"v":223},{"t":214,"v":225},{"t":215,"v":227},{"t":216,"v":227},{"t":217,"v":225},{"t":218,"v":223},{"t":219,"v":221},{"t":220,"v":219},{"t":221,"v":217},{"t":222,"v":215},{"t":223,"v":213},{"t":224,"v":212}]
},
"encoding":{
"x":{"field":"t","type":"quantitative","scale":{"domain":[0,224.6],"nice":false,"zero":false},
"axis":{"title":null,"grid":false,"values":[0,16,32,48,64,80,96,112,128,144,160,176,192,208,224],
"labelExpr":"['10.21','10.29','10.36','10.43','10.50','10.57','11.05','11.12','11.19','11.26','11.33','11.41','11.48','11.55','1'][round(datum.value/16)]",
"labelFont":"Liberation Sans","labelFontSize":9.5,"labelColor":"black","labelPadding":4,"labelFlush":false,"labelOverlap":false,
"domainColor":"black","domainWidth":1.5,"tickColor":"black","tickSize":4}},
"y":{"field":"v","type":"quantitative","scale":{"domain":[0,360],"nice":false},
"axis":{"title":null,"values":[0,20,40,60,80,100,120,140,160,180,200,220,240,260,280,300,320,340,360],
"grid":true,"gridColor":{"expr":"datum.value == 360 ? '#808080' : 'black'"},"gridWidth":1,
"labelFont":"Liberation Sans","labelFontSize":9.5,"labelColor":"black","labelPadding":3,
"domainColor":"black","domainWidth":1.5,"tickColor":"black","tickSize":4}}
},
"layer":[
{"data":{"name":"dir"},"mark":{"type":"line","strokeWidth":1,"clip":true},
"encoding":{"color":{"datum":"dir reale","type":"nominal",
"scale":{"domain":["dir reale","rotta gps","rotta","Media"],"range":["#000080","#FFFF00","#FF00FF","#FF0000"]},
"legend":{"orient":"none","legendX":295,"legendY":305,"direction":"horizontal","columns":4,"gridAlign":"all","columnPadding":103,
"symbolType":"stroke","symbolSize":484,"symbolStrokeWidth":1.5,"labelFont":"Liberation Sans","labelFontSize":11,"labelColor":"black","labelOffset":2,"labelLimit":0,
"padding":4,"strokeColor":"black","fillColor":"white","title":" ","titleOrient":"left","titlePadding":48,"titleFontSize":11}}}},
{"data":{"name":"gps"},"mark":{"type":"line","strokeWidth":1,"clip":true},"encoding":{"color":{"datum":"rotta gps","type":"nominal"}}},
{"data":{"name":"rot"},"mark":{"type":"line","strokeWidth":1,"clip":true},"encoding":{"color":{"datum":"rotta","type":"nominal"}}},
{"data":{"name":"med"},"mark":{"type":"line","strokeWidth":2.6,"clip":true,"interpolate":"monotone"},"encoding":{"color":{"datum":"Media","type":"nominal"}}}
]
}
